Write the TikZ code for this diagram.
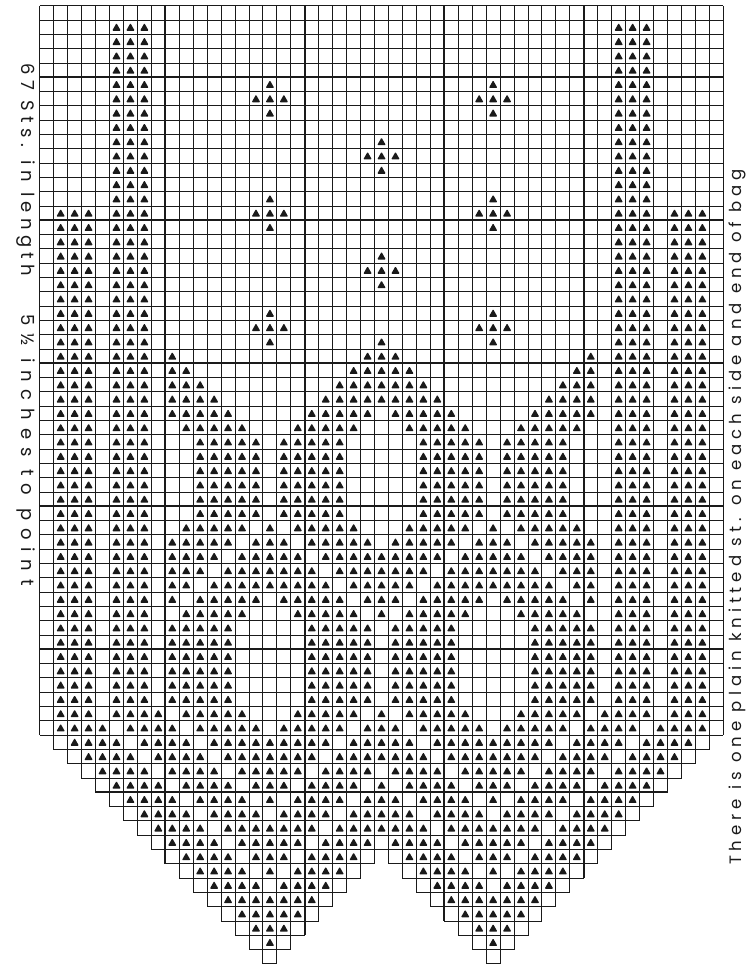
\documentclass[tikz,border=0pt]{standalone}
\usepackage{fontspec}
\setmainfont{Poppins}
\newfontfamily\handfont[LetterSpace=30]{Poppins}
\newfontfamily\handwide[LetterSpace=44]{Poppins}
\usetikzlibrary{positioning}
\definecolor{Ink}{HTML}{1A1A1A}

% grid geometry, in px of the chart
\def\ox{53.7}
\def\oy{5.8}
\def\cw{13.95}
\def\rh{14.3}
% one knitted stitch mark in cell (col,row)
\newcommand\stch[2]{%
  \fill[stitch] ({\ox+\cw*(#1)+\cw/2-4.3},{\oy+\rh*(#2)+\rh/2+3.5}) -- ++(8.6,0) -- ++(-4.3,-7.6) -- cycle;}

\begin{document}
\begin{tikzpicture}[x=1pt,y=-1pt,
  gridline/.style={Ink,line width=1pt},
  majorline/.style={Ink,line width=2pt},
  stitch/.style={Ink,rounded corners=0.9pt},
  caption/.style={text=Ink,inner sep=0pt,font=\handfont\fontsize{18}{18}\selectfont}]
\useasboundingbox (0,0) rectangle (754,964);
\fill[white] (0,0) rectangle (754,964);

% full rows
\foreach \r in {0,...,51}
  \draw[gridline] ({\ox-\cw},{\oy+\rh*\r}) -- ({\ox+\cw*48},{\oy+\rh*\r});
\foreach \c in {-1,...,48}
  \draw[gridline] ({\ox+\cw*\c},\oy) -- ({\ox+\cw*\c},{\oy+\rh*51});
% the two points
\foreach \r in {51,...,58}{
  \pgfmathtruncatemacro\lo{\r-51}
  \pgfmathtruncatemacro\hi{97-\r}
  \foreach \c in {\lo,...,\hi}
    \draw[gridline] ({\ox+\cw*\c},{\oy+\rh*\r}) rectangle +(\cw,\rh);
}
\foreach \r in {59,...,66}{
  \pgfmathtruncatemacro\lo{\r-51}
  \pgfmathtruncatemacro\hi{81-\r}
  \foreach \c in {\lo,...,\hi}{
    \draw[gridline] ({\ox+\cw*\c},{\oy+\rh*\r}) rectangle +(\cw,\rh);
    \draw[gridline] ({\ox+\cw*(46-\c)},{\oy+\rh*\r}) rectangle +(\cw,\rh);
  }
}
% every tenth line
\foreach \c/\e in {8/60,18/65,28/64,38/61}
  \draw[majorline] ({\ox+\cw*\c},\oy) -- ({\ox+\cw*\c},{\oy+\rh*\e});
\foreach \r in {5,15,...,45}
  \draw[majorline] ({\ox-\cw},{\oy+\rh*\r}) -- ({\ox+\cw*48},{\oy+\rh*\r});
\draw[majorline] ({\ox+\cw*3},{\oy+\rh*55}) -- ({\ox+\cw*44},{\oy+\rh*55});

% side bands
\foreach \r in {1,...,48}
  \foreach \c in {4,5,6}{\stch{\c}{\r}\stch{46-\c}{\r}}
\foreach \r in {14,...,48}
  \foreach \c in {0,1,2}{\stch{\c}{\r}\stch{46-\c}{\r}}

% pattern, left half (mirrored about col 23)
\foreach \r/\segs in {5/{15/15},6/{14/16},7/{15/15},
  9/{23/23},10/{22/23},11/{23/23},
  13/{15/15},14/{14/16},15/{15/15},
  17/{23/23},18/{22/23},19/{23/23},
  21/{15/15},22/{14/16},23/{15/15,23/23},
  24/{8/8,22/23},25/{8/9,21/23},26/{8/10,20/23},27/{8/11,19/23},28/{8/12,18/22},
  29/{9/13,17/21},30/{10/14,16/20},31/{10/14,16/20},32/{10/14,16/20},
  33/{10/14,16/20},34/{10/14,16/20},35/{10/14,16/20},
  36/{9/13,15/15,17/21},37/{8/12,14/16,18/22},38/{8/11,13/17,19/23},
  39/{8/10,12/18,20/23},40/{8/9,11/19,21/23},41/{8/8,10/14,16/20,22/23},
  42/{9/13,17/21,23/23},
  43/{8/12,18/22},44/{8/12,18/22},45/{8/12,18/22},46/{8/12,18/22},
  47/{8/12,18/22},48/{8/12,18/22},
  49/{0/2,4/7,9/13,17/21,23/23},50/{0/3,5/8,10/14,16/20,22/23},
  51/{1/4,6/9,11/19,21/23},52/{2/5,7/10,12/18,20/23},
  53/{3/6,8/11,13/17,19/22},54/{4/7,9/12,14/16,18/21,23/23},
  55/{5/8,10/13,15/15,17/20,22/23},56/{6/9,11/14,16/19,21/23},
  57/{7/10,12/18,20/23},58/{8/11,13/17,19/22},
  59/{9/12,14/16,18/21},60/{10/13,15/15,17/20},61/{11/14,16/19},
  62/{12/18},63/{13/17},64/{14/16},65/{15/15}}{
  \foreach \a/\b in \segs {
    \foreach \c in {\a,...,\b}{
      \stch{\c}{\r}
      \ifnum\c<23 \stch{46-\c}{\r}\fi
    }
  }
}

% notes
\node[caption,rotate=-90] (lenlabel) at (26,170) {67 Sts. in length};
\node[caption,rotate=-90,font=\handwide\fontsize{18}{18}\selectfont] (pointlabel) at (26,450) {5½ inches to point};
\node[caption,rotate=90,font=\handfont\fontsize{16.5}{16.5}\selectfont] (edgelabel) at (737,517) {There is one plain knitted st. on each side and end of bag};
\end{tikzpicture}
\end{document}
